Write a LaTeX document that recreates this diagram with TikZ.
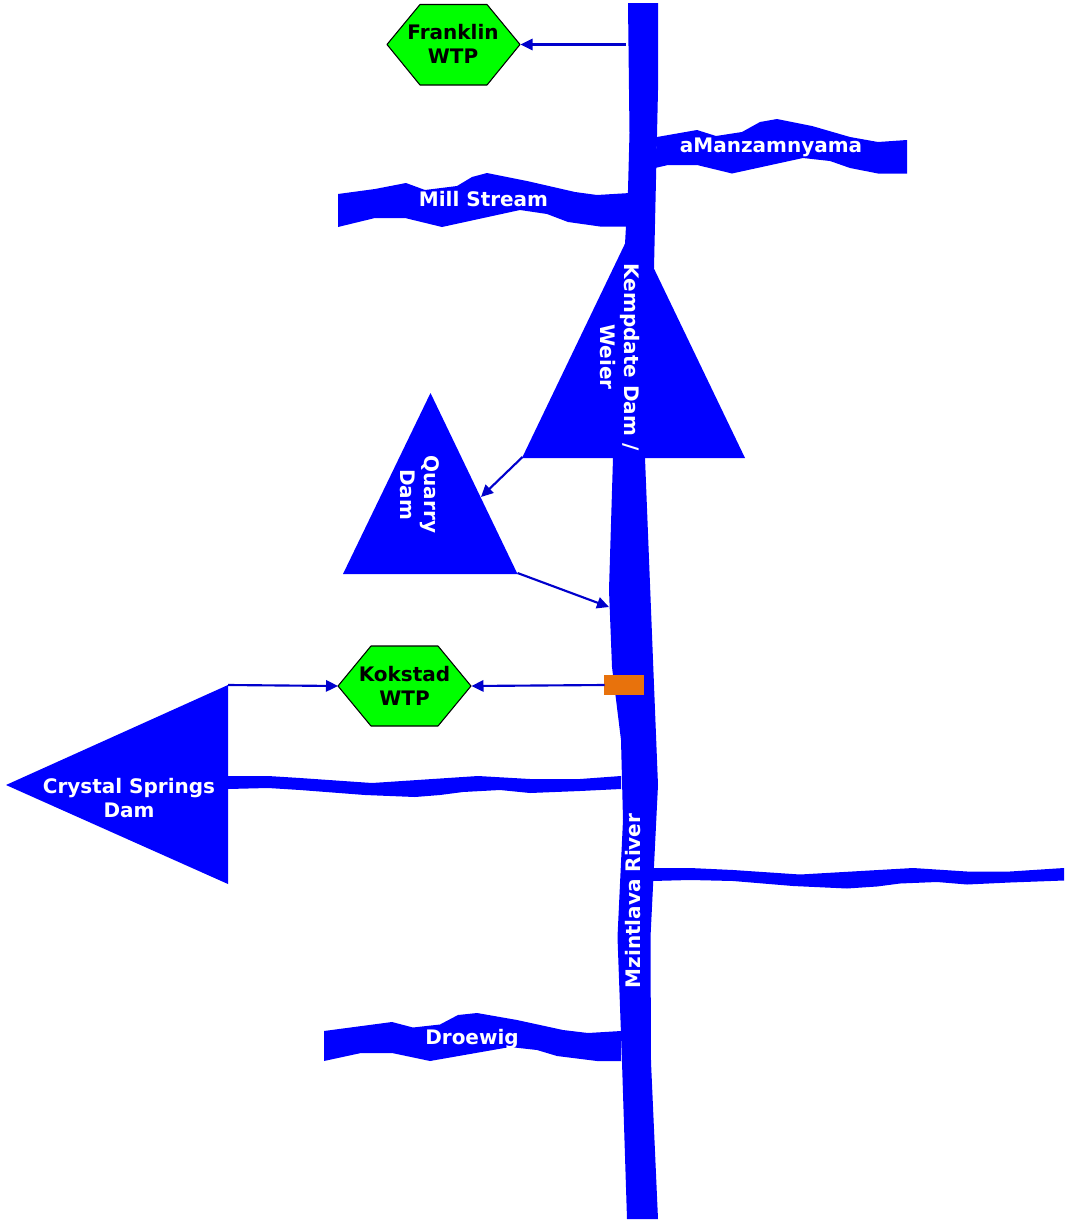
\documentclass[tikz,border=0pt]{standalone}
\usepackage{fontspec}
\setmainfont{DejaVu Sans}
\usetikzlibrary{arrows.meta}
\definecolor{riverblue}{HTML}{0000FF}
\definecolor{pipeblue}{HTML}{0000CC}
\definecolor{wtpgreen}{HTML}{00FF00}
\definecolor{abstraction}{HTML}{E8720C}
\tikzset{
	water/.style={fill=riverblue},
	wtp/.style={draw=black,fill=wtpgreen,line width=.8pt,line join=round},
	pipe/.style={draw=pipeblue,line width=1.6pt,-{Triangle[length=9pt,width=8.5pt]}},
	wlabel/.style={font=\bfseries\fontsize{15}{18}\selectfont,align=center,inner sep=0pt,text=white},
	blabel/.style={wlabel,text=black},
}
\begin{document}
\begin{tikzpicture}[x=.75pt,y=-.75pt]
	\useasboundingbox (0,0) rectangle (1065,1221);
	%MAIN RIVER
	\fill[water] (628,3)--(629,90)--(629.5,133)--(628,190)--(625,244)--(613,458)--(609,590)--(612,667)--(621,740)--(623,820)--(617.5,937)--(622,1062)--(627,1219)
		--(658,1219)--(651,1062)--(650.5,937)--(658,785)--(653,660)--(645,458)--(654,268)--(657,135)--(658,90)--(658,3)--cycle;
	%DAMS
	\fill[water] (522,458)--(633.5,226)--(745,458)--cycle;
	\fill[water] (430.5,393)--(517.5,574)--(343,574)--cycle;
	\fill[water] (6,785)--(228,685)--(228,884)--cycle;
	%TRIBUTARIES
	\fill[water] (657,137)--(697,130)--(716,136)--(742,132)--(760,122)--(777,119)--(812,126)--(850,137)--(878,142)--(907,140)
		--(907,173.5)--(878,173.5)--(850,168)--(830,161)--(803,158)--(732,173.5)--(697,165)--(668,165)--(655,168)--cycle;
	\fill[water] (338,194)--(375,189)--(406,183)--(425,190)--(457,186)--(472,177)--(487,173)--(527,181)--(575,192)--(597,195)--(630,193)
		--(630,226.5)--(600,226.5)--(568,222)--(547,214)--(520,210)--(442,227)--(405,218)--(375,218)--(338,227)--cycle;
	\fill[water] (324,1031)--(392,1022)--(413,1027.5)--(440,1024.5)--(458,1015)--(477,1013)--(517,1020)--(563,1030)--(588,1033)--(621,1031)
		--(621,1061)--(597,1061)--(557,1056)--(537,1050)--(510,1047)--(430,1061)--(392,1053)--(361,1053)--(324,1061)--cycle;
	\fill[water] (228,776)--(268,776)--(300,778)--(372,783)--(478,776)--(530,779)--(580,779)--(621,776)
		--(621,789)--(580,791)--(530,793)--(500,790)--(463,792)--(440,795)--(415,797)--(365,795)--(300,790)--(268,788)--(228,789)--cycle;
	\fill[water] (652,868)--(690,868)--(733,870)--(800,874.5)--(913,868)--(967,871.5)--(1010,871.5)--(1064,868)
		--(1064,880.5)--(1010,882.5)--(967,884.5)--(937,882)--(900,883.5)--(877,886.5)--(847,888.5)--(793,886)--(733,881)--(690,880)--(652,881)--cycle;
	%WTP
	\draw[wtp] (387,44.5)--(420,4.5)--(487,4.5)--(520,44.5)--(487,85)--(420,85)--cycle;
	\draw[wtp] (338,686)--(371,646)--(438,646)--(471,686)--(438,726)--(371,726)--cycle;
	\fill[abstraction] (604,675) rectangle (644,695);
	%LINKS
	\coordinate (franklinE) at (520.5,44.5);
	\coordinate (riverF) at (625.5,44.5);
	\coordinate (kokstadE) at (471.5,686);
	\coordinate (kokstadW) at (338,686);
	\coordinate (intake) at (604.5,685);
	\coordinate (crystalN) at (228,685);
	\coordinate (kempdateW) at (522.5,457);
	\coordinate (quarryE) at (481,497);
	\coordinate (quarryS) at (517.5,573);
	\coordinate (riverQ) at (609,607);
	\draw[pipe] (riverF)--(franklinE);
	\draw[pipe] (intake)--(kokstadE);
	\draw[pipe] (crystalN)--(kokstadW);
	\draw[pipe] (kempdateW)--(quarryE);
	\draw[pipe] (quarryS)--(riverQ);
	%LABELS
	\node[blabel] (franklin) at (453,44) {Franklin\\WTP};
	\node[blabel] (kokstad) at (404.5,686) {Kokstad\\WTP};
	\node[wlabel] (amanzamnyama) at (771,147) {aManzamnyama};
	\node[wlabel] (millstream) at (483.5,199.5) {Mill Stream};
	\node[wlabel] (droewig) at (472,1039) {Droewig};
	\node[wlabel] (crystal) at (129,798) {Crystal Springs\\Dam};
	\node[wlabel,rotate=-90] (kempdate) at (619.5,357) {Kempdate Dam /\\Weier};
	\node[wlabel,rotate=-90] (quarry) at (420,494.5) {Quarry\\Dam};
	\node[wlabel,rotate=90] (mzintlava) at (633.5,901) {Mzintlava River};
\end{tikzpicture}
\end{document}
